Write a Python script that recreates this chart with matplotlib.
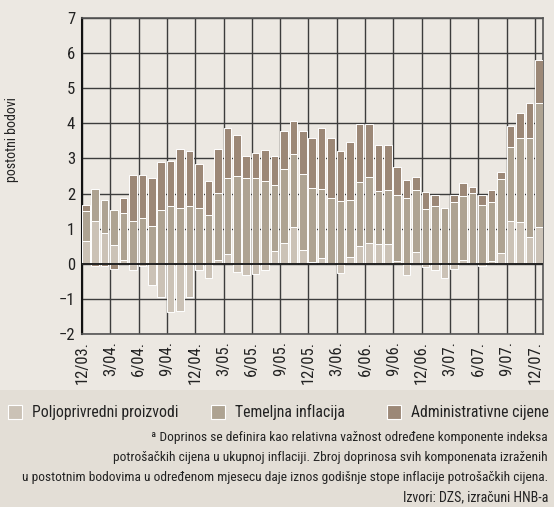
import numpy as np
import matplotlib.pyplot as plt
from matplotlib.patches import Rectangle

# mjeseci 12/03 .. 12/07
months = ['12/03', '1/04', '2/04', '3/04', '4/04', '5/04', '6/04', '7/04', '8/04',
          '9/04', '10/04', '11/04', '12/04', '1/05', '2/05', '3/05', '4/05', '5/05',
          '6/05', '7/05', '8/05', '9/05', '10/05', '11/05', '12/05', '1/06', '2/06',
          '3/06', '4/06', '5/06', '6/06', '7/06', '8/06', '9/06', '10/06', '11/06',
          '12/06', '1/07', '2/07', '3/07', '4/07', '5/07', '6/07', '7/07', '8/07',
          '9/07', '10/07', '11/07', '12/07']

poljoprivredni = [0.65, 1.21, 0.88, 0.54, 0.10, -0.19, -0.07, -0.61, -0.96,
                  -1.37, -1.34, -0.96, -0.18, -0.40, 0.12, 0.27, -0.22, -0.33,
                  -0.30, -0.18, 0.35, 0.59, 1.06, 0.38, 0.06, 0.17, 0.02,
                  -0.26, 0.20, 0.51, 0.59, 0.55, 0.57, 0.08, -0.33, 0.34,
                  -0.09, -0.19, -0.40, -0.14, 0.10, 0.01, -0.06, 0.08, 0.31,
                  1.22, 1.19, 0.77, 1.06]
temeljna = [0.84, 0.92, 0.93, 0.98, 1.34, 1.23, 1.31, 1.09, 1.52,
            1.64, 1.59, 1.64, 1.59, 1.38, 1.90, 2.18, 2.50, 2.43,
            2.43, 2.36, 1.89, 2.11, 2.08, 2.19, 2.10, 1.97, 1.86,
            1.79, 1.61, 1.82, 1.88, 1.52, 1.54, 1.87, 1.86, 1.75,
            1.57, 1.64, 1.59, 1.76, 1.84, 2.00, 1.68, 1.68, 2.11,
            2.10, 2.39, 2.82, 3.53]
administrativne = [0.17, -0.07, -0.07, -0.16, 0.44, 1.31, 1.21, 1.36, 1.39,
                   1.29, 1.69, 1.58, 1.25, 0.98, 1.25, 1.43, 1.18, 0.65,
                   0.72, 0.88, 0.84, 1.08, 0.93, 1.21, 1.41, 1.74, 1.69,
                   1.43, 1.67, 1.64, 1.50, 1.30, 1.26, 0.82, 0.53, 0.38,
                   0.47, 0.31, 0.00, 0.19, 0.35, 0.18, 0.27, 0.33, 0.18,
                   0.59, 0.72, 1.00, 1.21]

names = ['Poljoprivredni proizvodi', 'Temeljna inflacija', 'Administrativne cijene']
colors = ['#cbc2b6', '#aea392', '#9c8877']

plt.rcParams['font.family'] = ['Roboto Condensed', 'DejaVu Sans']

W, H = 554, 507
fig = plt.figure(figsize=(W / 100, H / 100), dpi=100)
fig.patch.set_facecolor('#ece8e2')
# tamnija podloga ispod grafikona
fig.patches.append(Rectangle((0, 0), 1, (H - 390) / H, transform=fig.transFigure,
                             facecolor='#e3ded6', edgecolor='none', zorder=0))

ax = fig.add_axes([82 / W, (H - 334) / H, (543 - 82) / W, (334 - 18) / H])
ax.set_facecolor('#ece8e2')

x = np.arange(len(months))
pos_bottom = np.zeros(len(months))
neg_bottom = np.zeros(len(months))
for vals, c in zip([poljoprivredni, temeljna, administrativne], colors):
    v = np.array(vals)
    bottom = np.where(v >= 0, pos_bottom, neg_bottom)
    ax.bar(x, v, width=0.8, bottom=bottom, align='edge', color=c,
           edgecolor='white', linewidth=0.7, zorder=3)
    pos_bottom += np.where(v >= 0, v, 0)
    neg_bottom += np.where(v < 0, v, 0)

ax.set_xlim(0, 48.85)
ax.set_ylim(-2, 7)
ax.set_yticks(range(-2, 8))
ax.set_yticklabels([str(t).replace('-', '\u2212') for t in range(-2, 8)])
ticks = x[::3]
ax.set_xticks(ticks)
ax.set_xticklabels([months[i] + '.' for i in ticks], rotation=90)
ax.tick_params(length=0, labelsize=12, colors='#222222', pad=5)
ax.grid(True, color='#3c3c3c', linewidth=1.0, zorder=1)
ax.axhline(0, color='#222222', linewidth=1.4, zorder=4)
for s in ax.spines.values():
    s.set_color('#555555')
    s.set_linewidth(1.2)
ax.spines['left'].set_color('#111111')
ax.spines['left'].set_linewidth(1.5)

fig.text(12 / W, 1 - 140 / H, 'postotni bodovi', rotation=90, ha='center',
         va='center', fontsize=10, color='#222222')

# legenda
leg_x = [8, 211, 387]
for lx, name, c in zip(leg_x, names, colors):
    fig.patches.append(Rectangle((lx / W, 1 - 419 / H), 14 / W, 14 / H,
                                 transform=fig.transFigure, facecolor=c,
                                 edgecolor='white', linewidth=0.8))
    fig.text((lx + 24) / W, 1 - 412 / H, name, ha='left', va='center',
             fontsize=11.3, color='#222222')

notes = ['\u00aa Doprinos se definira kao relativna va\u017enost odre\u0111ene komponente indeksa',
         'potro\u0161a\u010dkih cijena u ukupnoj inflaciji. Zbroj doprinosa svih komponenata izra\u017eenih',
         'u postotnim bodovima u odre\u0111enom mjesecu daje iznos godi\u0161nje stope inflacije potro\u0161a\u010dkih cijena.']
for i, line in enumerate(notes):
    fig.text(548 / W, 1 - (438 + 19.5 * i) / H, line, ha='right', va='center',
             fontsize=9.6, color='#222222')
fig.text(548 / W, 1 - 497 / H, 'Izvori: DZS, izra\u010duni HNB-a', ha='right',
         va='center', fontsize=10, color='#222222')

fig.savefig('out.png', dpi=100, facecolor=fig.get_facecolor())
